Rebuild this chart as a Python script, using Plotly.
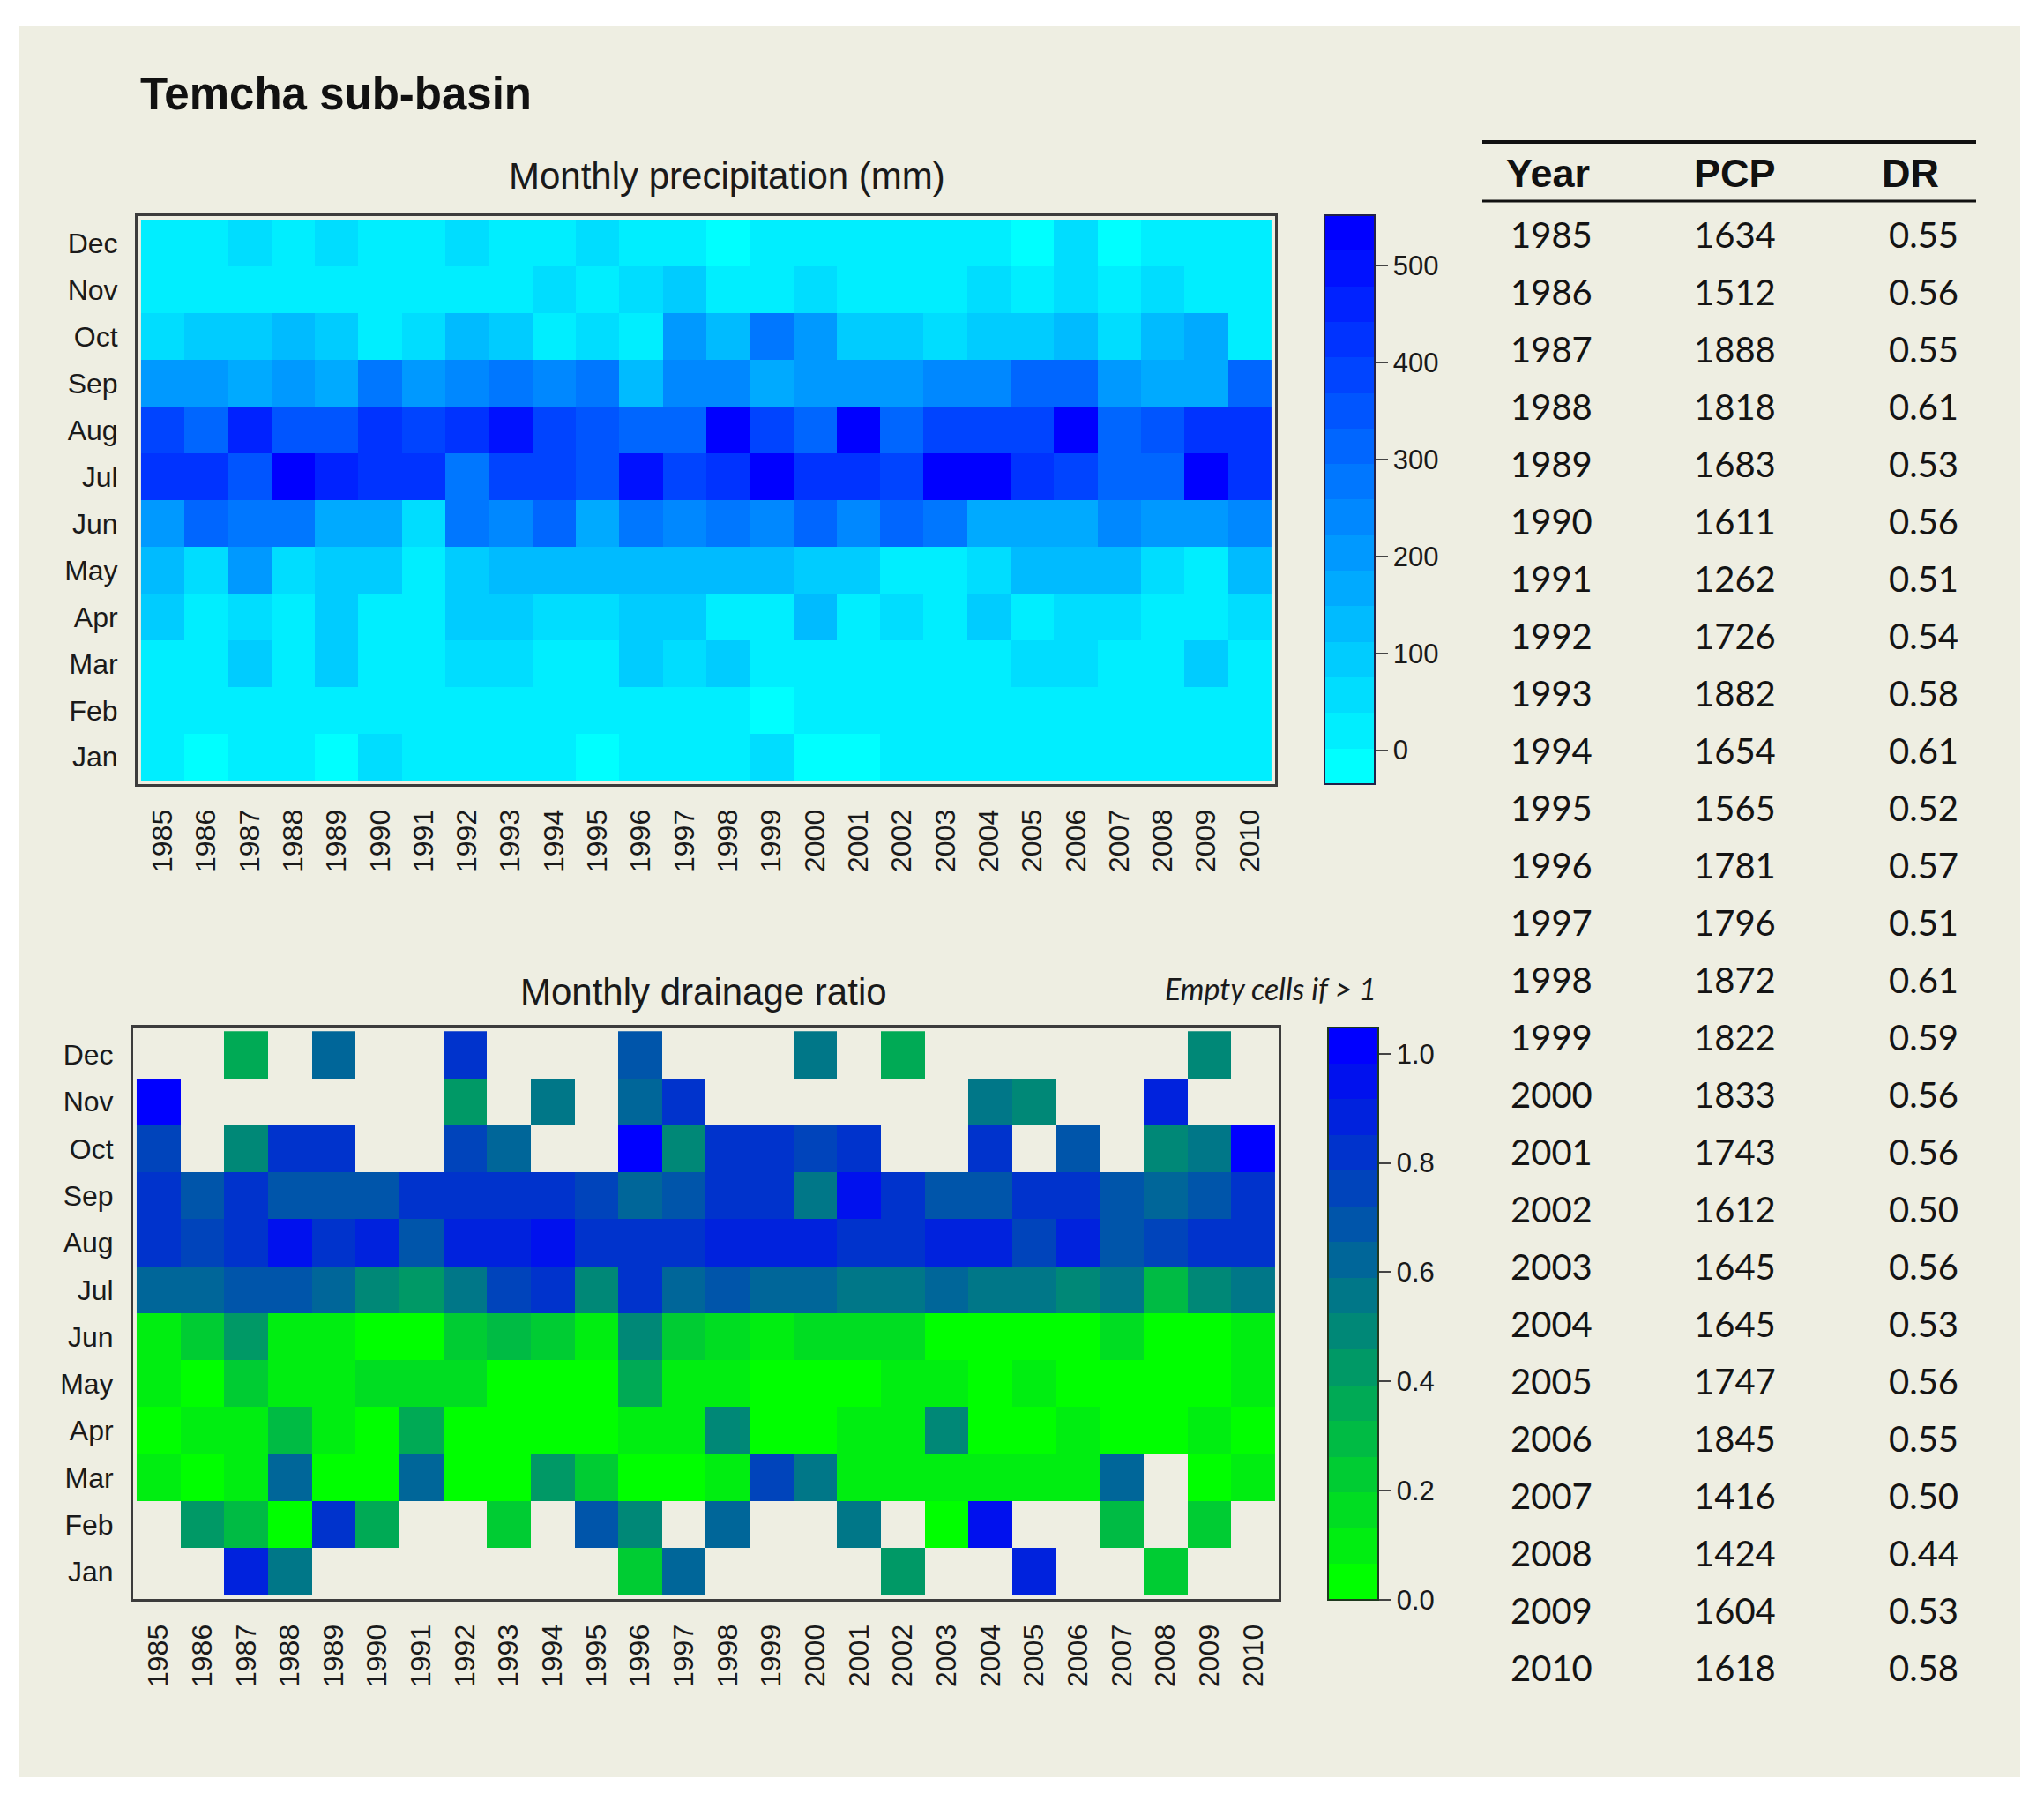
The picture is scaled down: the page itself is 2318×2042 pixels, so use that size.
import plotly.graph_objects as go

W, H = 2318, 2042
def X(p): return p / W
def Y(p): return 1 - p / H

years = list(range(1985, 2011))
year_labels = [str(y) for y in years]
months = ["Jan", "Feb", "Mar", "Apr", "May", "Jun", "Jul", "Aug", "Sep", "Oct", "Nov", "Dec"]

# Monthly precipitation (mm), 1985..2010
pcp_jan = [11, 0, 10, 10, 0, 48, 11, 10, 10, 10, 0, 10, 8, 8, 48, 0, 0, 20, 8, 8, 8, 8, 8, 8, 8, 8]
pcp_feb = [8, 8, 8, 38, 8, 8, 8, 8, 8, 8, 8, 8, 10, 10, 0, 10, 10, 10, 20, 10, 10, 10, 10, 10, 10, 10]
pcp_mar = [10, 10, 90, 10, 90, 10, 10, 48, 48, 10, 10, 108, 52, 108, 15, 15, 34, 34, 15, 15, 52, 52, 15, 15, 90, 15]
pcp_apr = [108, 15, 52, 15, 90, 15, 15, 90, 90, 48, 52, 90, 90, 15, 15, 127, 34, 52, 15, 90, 15, 52, 52, 34, 15, 52]
pcp_may = [145, 71, 219, 52, 108, 108, 34, 90, 127, 127, 127, 145, 145, 145, 127, 108, 108, 15, 15, 71, 127, 145, 145, 52, 15, 145]
pcp_jun = [219, 312, 275, 275, 182, 182, 71, 293, 238, 330, 182, 293, 256, 293, 256, 330, 256, 330, 293, 182, 182, 164, 256, 219, 201, 238]
pcp_jul = [441, 420, 367, 534, 460, 423, 423, 275, 386, 386, 349, 497, 404, 423, 534, 441, 423, 404, 534, 534, 441, 404, 330, 312, 545, 441]
pcp_aug = [404, 310, 478, 367, 349, 441, 404, 441, 497, 386, 349, 312, 300, 534, 404, 330, 534, 330, 386, 386, 404, 545, 330, 367, 441, 441]
pcp_sep = [219, 219, 182, 219, 182, 293, 219, 238, 275, 238, 293, 145, 238, 238, 164, 219, 219, 219, 238, 238, 312, 330, 219, 182, 182, 330]
pcp_oct = [52, 90, 90, 145, 90, 11, 43, 145, 108, 10, 52, 11, 200, 127, 275, 219, 90, 90, 43, 90, 90, 127, 52, 145, 164, 15]
pcp_nov = [10, 10, 10, 10, 10, 10, 10, 10, 10, 48, 10, 56, 90, 20, 20, 48, 10, 10, 10, 48, 10, 48, 10, 48, 10, 10]
pcp_dec = [20, 20, 48, 20, 48, 20, 20, 48, 20, 20, 43, 20, 20, 0, 20, 20, 10, 10, 10, 10, 0, 48, 0, 10, 10, 10]

# Monthly drainage ratio (None = empty cell, ratio > 1)
dr_jan = [None, None, 0.88, 0.55, None, None, None, None, None, None, None, 0.22, 0.62, None, None, None, None, 0.44, None, None, 0.88, None, None, 0.26, None, None]
dr_feb = [None, 0.44, 0.31, 0.06, 0.79, 0.39, None, None, 0.22, None, 0.69, 0.49, None, 0.62, None, None, 0.55, None, 0.03, 0.97, None, None, 0.29, None, 0.22, None]
dr_mar = [0.13, 0.06, 0.13, 0.62, 0.06, 0.06, 0.62, 0.06, 0.06, 0.44, 0.22, 0.06, 0.06, 0.09, 0.76, 0.55, 0.09, 0.09, 0.13, 0.13, 0.09, 0.09, 0.62, None, 0.06, 0.13]
dr_apr = [0.06, 0.13, 0.13, 0.29, 0.13, 0.06, 0.39, 0.06, 0.06, 0.06, 0.06, 0.13, 0.13, 0.49, 0.06, 0.06, 0.09, 0.09, 0.49, 0.06, 0.06, 0.13, 0.06, 0.06, 0.13, 0.06]
dr_may = [0.13, 0.06, 0.22, 0.13, 0.13, 0.16, 0.16, 0.16, 0.06, 0.06, 0.06, 0.36, 0.13, 0.13, 0.06, 0.06, 0.06, 0.09, 0.09, 0.06, 0.13, 0.06, 0.06, 0.06, 0.06, 0.13]
dr_jun = [0.13, 0.22, 0.44, 0.13, 0.13, 0.06, 0.02, 0.22, 0.29, 0.26, 0.13, 0.52, 0.22, 0.19, 0.09, 0.19, 0.19, 0.19, 0.06, 0.06, 0.06, 0.06, 0.19, 0.06, 0.06, 0.09]
dr_jul = [0.62, 0.62, 0.69, 0.72, 0.62, 0.52, 0.42, 0.55, 0.76, 0.79, 0.49, 0.82, 0.62, 0.72, 0.62, 0.62, 0.58, 0.58, 0.62, 0.58, 0.58, 0.49, 0.58, 0.29, 0.49, 0.58]
dr_aug = [0.79, 0.76, 0.85, 0.95, 0.79, 0.88, 0.69, 0.88, 0.88, 0.92, 0.79, 0.82, 0.79, 0.88, 0.88, 0.88, 0.85, 0.79, 0.88, 0.88, 0.76, 0.88, 0.72, 0.76, 0.79, 0.79]
dr_sep = [0.79, 0.72, 0.79, 0.72, 0.72, 0.69, 0.79, 0.79, 0.79, 0.82, 0.76, 0.60, 0.69, 0.79, 0.79, 0.55, 0.95, 0.79, 0.72, 0.72, 0.79, 0.79, 0.72, 0.65, 0.72, 0.82]
dr_oct = [0.74, None, 0.47, 0.82, 0.79, None, None, 0.76, 0.62, None, None, 0.99, 0.49, 0.82, 0.82, 0.76, 0.79, None, None, 0.82, None, 0.72, None, 0.47, 0.55, 1.0]
dr_nov = [0.99, None, None, None, None, None, None, 0.42, None, 0.55, None, 0.60, 0.79, None, None, None, None, None, None, 0.55, 0.47, None, None, 0.88, None, None]
dr_dec = [None, None, 0.33, None, 0.65, None, None, 0.79, None, None, None, 0.72, None, None, None, 0.55, None, 0.36, None, None, None, None, None, None, 0.49, None]

# Table
table_years = years
table_pcp = [1634, 1512, 1888, 1818, 1683, 1611, 1262, 1726, 1882, 1654, 1565, 1781, 1796,
             1872, 1822, 1833, 1743, 1612, 1645, 1645, 1747, 1845, 1416, 1424, 1604, 1618]
table_dr = [0.55, 0.56, 0.55, 0.61, 0.53, 0.56, 0.51, 0.54, 0.58, 0.61, 0.52, 0.57, 0.51,
            0.61, 0.59, 0.56, 0.56, 0.50, 0.56, 0.53, 0.56, 0.55, 0.50, 0.44, 0.53, 0.58]

pcp_ticks = [0, 100, 200, 300, 400, 500]
dr_ticks = [0.0, 0.2, 0.4, 0.6, 0.8, 1.0]

pcp_z = [pcp_jan, pcp_feb, pcp_mar, pcp_apr, pcp_may, pcp_jun,
         pcp_jul, pcp_aug, pcp_sep, pcp_oct, pcp_nov, pcp_dec]
dr_z = [dr_jan, dr_feb, dr_mar, dr_apr, dr_may, dr_jun,
        dr_jul, dr_aug, dr_sep, dr_oct, dr_nov, dr_dec]


def stepped(c0, c1, n=16):
    cs = []
    for k in range(n):
        t = k / (n - 1)
        col = "rgb(%d,%d,%d)" % tuple(round(a + (b - a) * t) for a, b in zip(c0, c1))
        cs.append([k / n, col])
        cs.append([(k + 1) / n, col])
    return cs


FONT = "Liberation Sans, Arial, sans-serif"
TXT = "#1a1a1a"
PANEL = "#EEEEE2"

fig = go.Figure()

fig.add_trace(go.Heatmap(
    z=pcp_z, x=years, y=list(range(12)),
    zmin=-35, zmax=552,
    colorscale=stepped((0, 255, 255), (0, 0, 255)),
    xaxis="x", yaxis="y",
    hoverinfo="skip",
    colorbar=dict(
        x=X(1502), xanchor="left", xpad=0,
        y=Y((244 + 889) / 2), yanchor="middle", ypad=0,
        len=645 / H, lenmode="fraction",
        thickness=57, thicknessmode="pixels",
        outlinewidth=2, outlinecolor="#22224a",
        tickvals=pcp_ticks, ticks="outside", ticklen=14, tickwidth=2, tickcolor="#444",
        tickfont=dict(family=FONT, size=31, color=TXT),
    ),
))

fig.add_trace(go.Heatmap(
    z=dr_z, x=years, y=list(range(12)),
    zmin=0, zmax=1.048,
    colorscale=stepped((0, 255, 0), (0, 0, 255)),
    xaxis="x2", yaxis="y2",
    hoverinfo="skip",
    colorbar=dict(
        x=X(1506), xanchor="left", xpad=0,
        y=Y((1165 + 1814) / 2), yanchor="middle", ypad=0,
        len=649 / H, lenmode="fraction",
        thickness=57, thicknessmode="pixels",
        outlinewidth=2, outlinecolor="#1f3a1f",
        tickvals=dr_ticks, tickformat=".1f",
        ticks="outside", ticklen=14, tickwidth=2, tickcolor="#444",
        tickfont=dict(family=FONT, size=31, color=TXT),
    ),
))

pad = 0.08
axis_common = dict(showline=True, mirror=True, linecolor="#3c3c3c", linewidth=3,
                   showgrid=False, zeroline=False, ticks="outside", ticklen=13,
                   tickcolor="rgba(0,0,0,0)", tickfont=dict(family=FONT, size=32, color=TXT))

xax = dict(axis_common, tickvals=years, ticktext=year_labels, tickangle=-90,
           range=[years[0] - 0.5 - pad, years[-1] + 0.5 + pad])
yax = dict(axis_common, tickvals=list(range(12)), ticktext=months,
           range=[-0.5 - pad, 11.5 + pad])

fig.update_layout(
    width=W, height=H,
    margin=dict(l=0, r=0, t=0, b=0),
    paper_bgcolor="white",
    plot_bgcolor="#F4F3EA",
    showlegend=False,
    xaxis=dict(xax, domain=[X(156), X(1446)], anchor="y"),
    yaxis=dict(yax, domain=[Y(889), Y(245)], anchor="x"),
    xaxis2=dict(xax, domain=[X(151), X(1450)], anchor="y2"),
    yaxis2=dict(yax, domain=[Y(1813), Y(1165)], anchor="x2"),
)

shapes = [
    dict(type="rect", xref="paper", yref="paper", x0=X(22), x1=X(2291), y0=Y(2015), y1=Y(30),
         fillcolor=PANEL, line=dict(width=0), layer="below"),
    dict(type="line", xref="paper", yref="paper", x0=X(1681), x1=X(2241), y0=Y(161), y1=Y(161),
         line=dict(color="#111", width=4)),
    dict(type="line", xref="paper", yref="paper", x0=X(1681), x1=X(2241), y0=Y(228), y1=Y(228),
         line=dict(color="#111", width=3)),
]
fig.update_layout(shapes=shapes)

ann = []
ann.append(dict(text="<b>Temcha sub-basin</b>", x=X(157), y=Y(106), xanchor="left", yanchor="middle",
                font=dict(family=FONT, size=51, color="#111")))
ann.append(dict(text="Monthly precipitation (mm)", x=X(824), y=Y(199), xanchor="center", yanchor="middle",
                font=dict(family=FONT, size=42, color=TXT)))
ann.append(dict(text="Monthly drainage ratio", x=X(798), y=Y(1124), xanchor="center", yanchor="middle",
                font=dict(family=FONT, size=42, color=TXT)))
ann.append(dict(text="<i>Empty cells if &gt; 1</i>", x=X(1563), y=Y(1120), xanchor="right", yanchor="middle",
                font=dict(family="Lato, sans-serif", size=34, color=TXT)))

# table header
for label, cx in [("Year", 1755), ("PCP", 1967), ("DR", 2166)]:
    ann.append(dict(text="<b>%s</b>" % label, x=X(cx), y=Y(196), xanchor="center", yanchor="middle",
                    font=dict(family=FONT, size=45, color="#111")))
# table rows
for i, (yr, p, d) in enumerate(zip(table_years, table_pcp, table_dr)):
    yy = Y(266 + 65 * i)
    for txt, cx in [(str(yr), 1759), (str(p), 1967), ("%.2f" % d, 2181)]:
        ann.append(dict(text=txt, x=X(cx), y=yy, xanchor="center", yanchor="middle",
                        font=dict(family="Lato, sans-serif", size=40, color="#141414")))

for a in ann:
    a.update(xref="paper", yref="paper", showarrow=False)
fig.update_layout(annotations=ann)

fig.write_html("out.html", config={"displayModeBar": False},
               post_script="document.body.style.margin='0';document.body.style.overflow='hidden';")
